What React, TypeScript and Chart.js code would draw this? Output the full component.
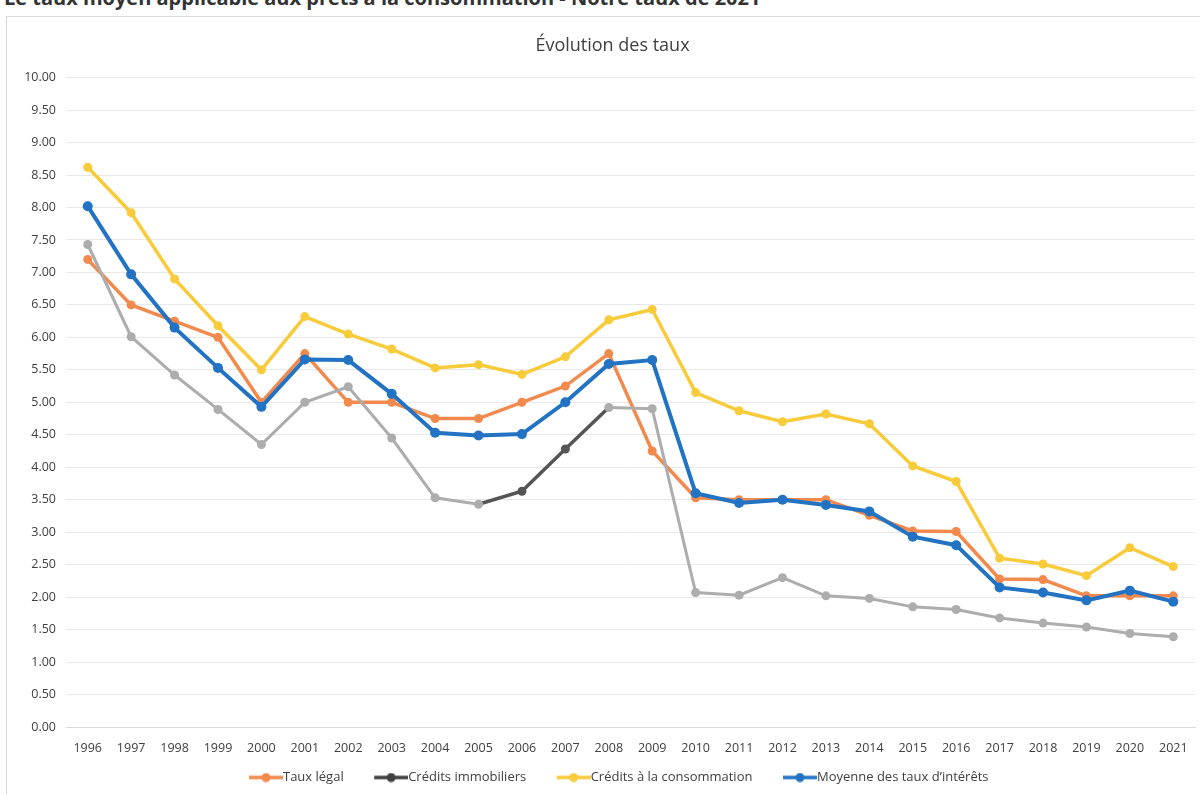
import React, { useEffect, useRef } from "react";
import { Chart, registerables } from "chart.js";

Chart.register(...registerables);

const years = ["1996","1997","1998","1999","2000","2001","2002","2003","2004","2005","2006","2007","2008","2009","2010","2011","2012","2013","2014","2015","2016","2017","2018","2019","2020","2021"];
const tauxLegal = [7.2, 6.5, 6.25, 6.0, 5.0, 5.75, 5.0, 5.0, 4.75, 4.75, 5.0, 5.25, 5.75, 4.25, 3.53, 3.5, 3.5, 3.5, 3.26, 3.02, 3.01, 2.28, 2.27, 2.02, 2.02, 2.02];
const creditsImmobiliers = [7.43, 6.01, 5.42, 4.89, 4.35, 5.0, 5.24, 4.45, 3.53, 3.43, 3.63, 4.28, 4.92, 4.9, 2.07, 2.03, 2.3, 2.02, 1.98, 1.85, 1.81, 1.68, 1.6, 1.54, 1.44, 1.39];
const creditsConsommation = [8.62, 7.92, 6.9, 6.18, 5.5, 6.32, 6.05, 5.82, 5.53, 5.58, 5.43, 5.7, 6.27, 6.43, 5.15, 4.87, 4.7, 4.82, 4.67, 4.02, 3.78, 2.6, 2.51, 2.33, 2.76, 2.47];
const moyenneTaux = [8.02, 6.97, 6.15, 5.53, 4.93, 5.66, 5.65, 5.13, 4.53, 4.49, 4.51, 5.0, 5.59, 5.65, 3.6, 3.45, 3.5, 3.42, 3.32, 2.93, 2.8, 2.15, 2.07, 1.95, 2.1, 1.93];
const seriesNames = ["Taux légal", "Crédits immobiliers", "Crédits à la consommation", "Moyenne des taux d’intérêts"];
const darkGreyIdx = [10, 11];

const ORANGE = "#F28A4E";
const GREY = "#ADADAD";
const DARK = "#555555";
const YELLOW = "#F7CB3A";
const BLUE = "#2273C3";
const FONT = '"Open Sans", sans-serif';

// legend marker: transparent left part, visible line + dot on the right part
function marker(color: string) {
  const c = document.createElement("canvas");
  c.width = 53;
  c.height = 10;
  const g = c.getContext("2d")!;
  g.strokeStyle = color;
  g.lineWidth = 3.5;
  g.beginPath();
  g.moveTo(19, 5);
  g.lineTo(53, 5);
  g.stroke();
  g.fillStyle = color;
  g.beginPath();
  g.arc(36, 5, 4.5, 0, Math.PI * 2);
  g.fill();
  return c;
}

export default function App() {
  const ref = useRef<HTMLCanvasElement>(null);
  useEffect(() => {
    const legendColors = [ORANGE, "#404040", YELLOW, BLUE];
    const markers = legendColors.map((c) => marker(c));
    const chart = new Chart(ref.current!, {
      type: "line",
      data: {
        labels: years,
        datasets: [
          {
            label: seriesNames[0],
            data: tauxLegal,
            borderColor: ORANGE,
            backgroundColor: ORANGE,
            borderWidth: 3.5,
            pointRadius: 4.5,
            pointBorderWidth: 0,
            order: 4,
          },
          {
            label: seriesNames[1],
            data: creditsImmobiliers,
            borderColor: GREY,
            backgroundColor: GREY,
            pointBackgroundColor: creditsImmobiliers.map((_, i) => (darkGreyIdx.includes(i) ? DARK : GREY)),
            borderWidth: 3,
            pointRadius: 4.5,
            pointBorderWidth: 0,
            segment: {
              borderColor: (ctx: any) => (ctx.p0DataIndex >= 9 && ctx.p0DataIndex <= 11 ? DARK : GREY),
              borderWidth: (ctx: any) => (ctx.p0DataIndex >= 9 && ctx.p0DataIndex <= 11 ? 3.5 : 3),
            },
            order: 3,
          },
          {
            label: seriesNames[2],
            data: creditsConsommation,
            borderColor: YELLOW,
            backgroundColor: YELLOW,
            borderWidth: 3.5,
            pointRadius: 4.5,
            pointBorderWidth: 0,
            order: 2,
          },
          {
            label: seriesNames[3],
            data: moyenneTaux,
            borderColor: BLUE,
            backgroundColor: BLUE,
            borderWidth: 4,
            pointRadius: 5,
            pointBorderWidth: 0,
            order: 1,
          },
        ],
      },
      options: {
        animation: false,
        responsive: false,
        maintainAspectRatio: false,
        layout: { padding: 0 },
        plugins: {
          title: {
            display: true,
            text: "Évolution des taux",
            color: "#404040",
            font: { family: FONT, size: 18, weight: "normal" },
            padding: { top: 14, bottom: 21 },
          },
          legend: {
            position: "bottom",
            labels: {
              color: "#404040",
              font: { family: FONT, size: 13 },
              usePointStyle: true,
              pointStyleWidth: 40,
              boxHeight: 10,
              padding: 18,
              generateLabels: (ch: any) =>
                ch.data.datasets.map((ds: any, i: number) => ({
                  text: ds.label,
                  fillStyle: legendColors[i],
                  strokeStyle: legendColors[i],
                  lineWidth: 0,
                  pointStyle: markers[i],
                  hidden: !ch.isDatasetVisible(i),
                  datasetIndex: i,
                  fontColor: "#404040",
                })),
            },
          },
          tooltip: { enabled: false },
        },
        scales: {
          x: {
            offset: true,
            grid: { display: false },
            border: { display: true, color: "#d9d9d9" },
            ticks: { color: "#404040", font: { family: FONT, size: 12.5 }, maxRotation: 0, autoSkip: false, padding: 6 },
            afterFit: (s: any) => { s.height = 26; },
          },
          y: {
            min: 0,
            max: 10,
            grid: { color: "#e8e8e8", drawTicks: false },
            border: { display: false },
            ticks: {
              stepSize: 0.5,
              color: "#404040",
              font: { family: FONT, size: 12.5 },
              padding: 10,
              callback: (v: any) => Number(v).toFixed(2),
            },
            afterFit: (s: any) => { s.width = 57; },
          },
          yRightSpace: {
            position: "right",
            min: 0,
            max: 10,
            grid: { display: false, drawTicks: false },
            border: { display: false },
            ticks: { display: false },
            afterFit: (s: any) => { s.width = 21; },
          },
        },
      },
    });
    return () => chart.destroy();
  }, []);

  return (
    <div style={{ position: "absolute", left: 0, top: 0, width: 1200, height: 794, overflow: "hidden", background: "#fff" }}>
      <div
        style={{
          position: "absolute",
          left: 4,
          top: -16,
          fontFamily: FONT,
          fontWeight: "bold",
          fontSize: 20,
          color: "#333",
          whiteSpace: "nowrap",
        }}
      >
        Le taux moyen applicable aux prêts à la consommation - Notre taux de 2021
      </div>
      <div
        style={{
          position: "absolute",
          left: 6,
          top: 16,
          width: 1230,
          height: 800,
          border: "1px solid #d9d9d9",
          boxSizing: "border-box",
        }}
      >
        <canvas ref={ref} width={1207} height={773} style={{ position: "absolute", left: 2, top: 4 }} />
      </div>
    </div>
  );
}
